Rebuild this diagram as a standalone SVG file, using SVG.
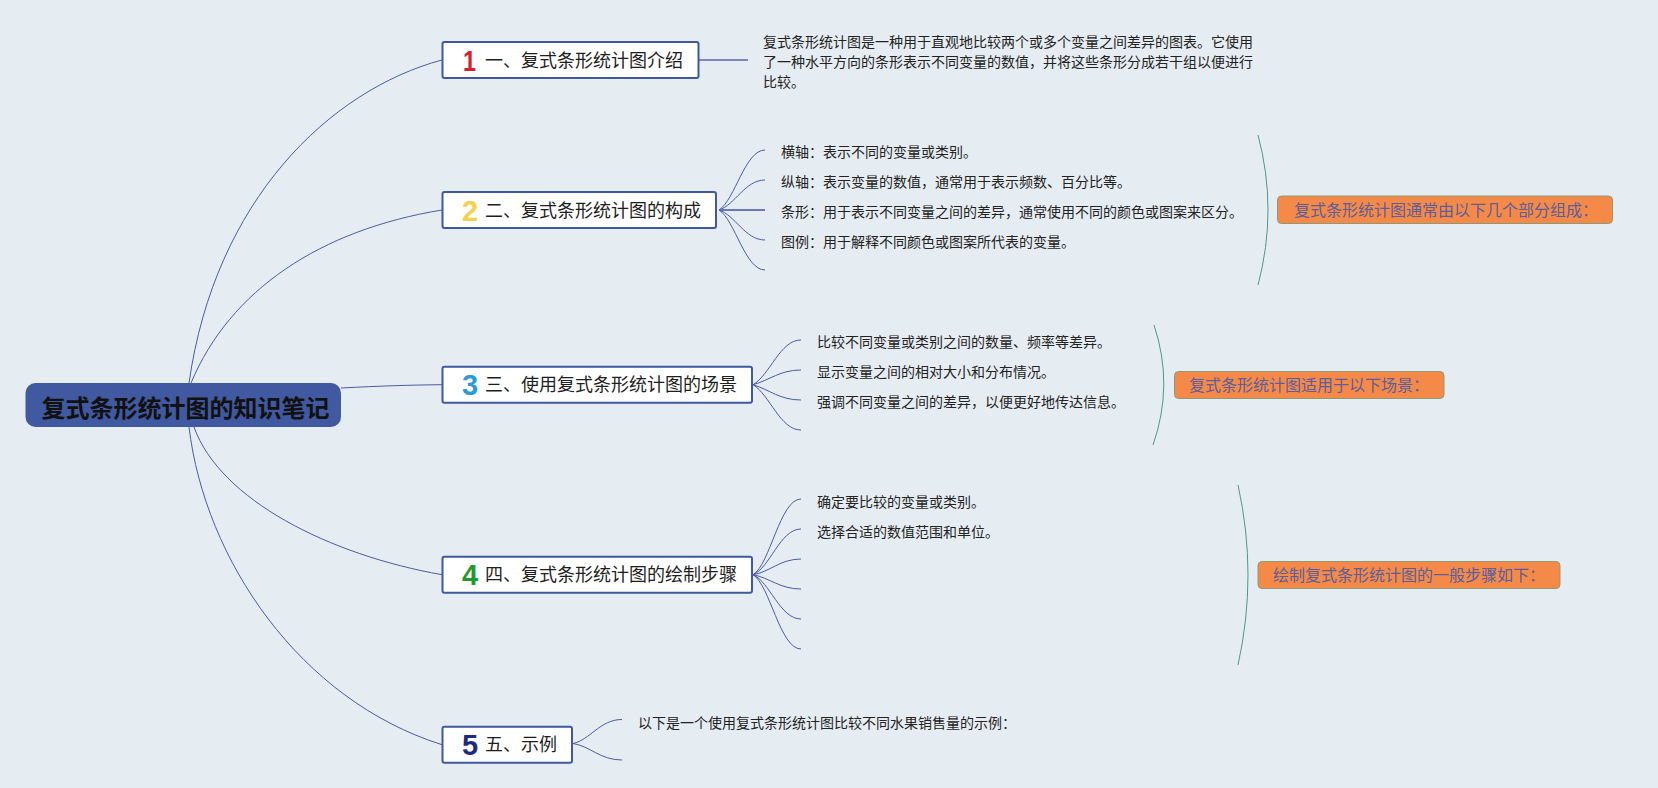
<svg xmlns="http://www.w3.org/2000/svg" width="1658" height="788" viewBox="0 0 1658 788">
<style>
.bg{fill:#e6edf2}
.topic rect{fill:#ffffff;stroke:#3f58a0;stroke-width:2}
.lbl{font-family:"Noto Sans CJK SC","Noto Sans",sans-serif;font-size:18px;fill:#1e1e1e}
.num{font-family:"Liberation Sans",Arial,sans-serif;font-size:29px;font-weight:bold}
.txt{font-family:"Noto Sans CJK SC","Noto Sans",sans-serif;font-size:14px;fill:#222222}
.sum rect{fill:#f58a48;stroke:#8d9a78;stroke-width:1}
.sum text{font-family:"Noto Sans CJK SC","Noto Sans",sans-serif;font-size:16px;fill:#5a5e9c}
.conn path{fill:none;stroke:#4a5ba0;stroke-width:1}
.brk path{fill:none;stroke:#4d9a80;stroke-width:1}
</style>
<rect class="bg" x="0" y="0" width="1658" height="788"/>

<g id="connectors" class="conn">
  <path d="M189,383 C215,200 330,90 442,60"/>
  <path d="M191,383 C230,290 320,230 442,210"/>
  <path d="M341,388 C380,386 410,385 442,384.7"/>
  <path d="M194,427 C220,500 330,555 442,574.7"/>
  <path d="M189,427 C205,560 300,700 442,744.7"/>
  <path d="M698,60 L748,60" style="stroke:#7a88c0;stroke-width:2"/>
  <path d="M719,210 C735,200 745,150 765,150"/>
  <path d="M719,210 C735,205 745,180 765,180"/>
  <path d="M719,210 L765,210" style="stroke-width:2;stroke:#6a78b8"/>
  <path d="M719,210 C735,215 745,240 765,240"/>
  <path d="M719,210 C735,220 745,270 765,270"/>
  <path d="M753,384.7 C770,375 780,340 801,340"/>
  <path d="M753,384.7 C770,380 780,370 801,370"/>
  <path d="M753,384.7 C770,390 780,400 801,400"/>
  <path d="M753,384.7 C770,395 780,430 801,430"/>
  <path d="M753,574.7 C770,565 780,499 801,499"/>
  <path d="M753,574.7 C770,568 780,529 801,529"/>
  <path d="M753,574.7 C770,572 780,559 801,559"/>
  <path d="M753,574.7 C770,578 780,589 801,589"/>
  <path d="M753,574.7 C770,582 780,619 801,619"/>
  <path d="M753,574.7 C770,585 780,649 801,649"/>
  <path d="M573,743.5 C590,740 600,719.5 622,719.5"/>
  <path d="M573,743.5 C590,746 600,760 622,760"/>
</g>

<g id="brackets" class="brk">
  <path d="M1258,135 Q1278,210 1258,285"/>
  <path d="M1154,325 Q1174,385 1153,445"/>
  <path d="M1238,485 Q1258,575 1238,665"/>
</g>

<g id="root">
  <rect x="25.5" y="383" width="315.5" height="44" rx="10" ry="10" fill="#4059a0"/>
  <text x="41.5" y="416.5" font-family="'Noto Sans CJK SC','Noto Sans',sans-serif" font-size="24" font-weight="bold" fill="#111111">复式条形统计图的知识笔记</text>
</g>

<g id="topic1" class="topic">
  <rect x="442.5" y="42" width="256" height="36" rx="2"/>
  <text class="num" x="463" y="70.5" fill="#d81f2e" textLength="13" lengthAdjust="spacingAndGlyphs">1</text>
  <text class="lbl" x="485" y="66.5">一、复式条形统计图介绍</text>
</g>
<g id="topic2" class="topic">
  <rect x="442.5" y="192" width="273.5" height="36" rx="2"/>
  <text class="num" x="462" y="220.5" fill="#f3d14a">2</text>
  <text class="lbl" x="485" y="216.5">二、复式条形统计图的构成</text>
</g>
<g id="topic3" class="topic">
  <rect x="442.5" y="366.7" width="309.5" height="36" rx="2"/>
  <text class="num" x="462" y="395.2" fill="#2a9ad8">3</text>
  <text class="lbl" x="485" y="391.2">三、使用复式条形统计图的场景</text>
</g>
<g id="topic4" class="topic">
  <rect x="442.5" y="556.7" width="309.5" height="36" rx="2"/>
  <text class="num" x="462" y="585.2" fill="#1f9a2f">4</text>
  <text class="lbl" x="485" y="581.2">四、复式条形统计图的绘制步骤</text>
</g>
<g id="topic5" class="topic">
  <rect x="442.5" y="726.7" width="129.5" height="36" rx="2"/>
  <text class="num" x="462" y="755.2" fill="#1e2a80">5</text>
  <text class="lbl" x="485" y="751.2">五、示例</text>
</g>

<g id="intro-text">
  <text class="txt" x="763" y="46.5">复式条形统计图是一种用于直观地比较两个或多个变量之间差异的图表。它使用</text>
  <text class="txt" x="763" y="66.5">了一种水平方向的条形表示不同变量的数值，并将这些条形分成若干组以便进行</text>
  <text class="txt" x="763" y="86.5">比较。</text>
</g>

<g id="parts">
  <text class="txt" x="781" y="156.5">横轴：表示不同的变量或类别。</text>
  <text class="txt" x="781" y="186.5">纵轴：表示变量的数值，通常用于表示频数、百分比等。</text>
  <text class="txt" x="781" y="216.5">条形：用于表示不同变量之间的差异，通常使用不同的颜色或图案来区分。</text>
  <text class="txt" x="781" y="246.5">图例：用于解释不同颜色或图案所代表的变量。</text>
</g>

<g id="scenes">
  <text class="txt" x="817" y="346.5">比较不同变量或类别之间的数量、频率等差异。</text>
  <text class="txt" x="817" y="376.5">显示变量之间的相对大小和分布情况。</text>
  <text class="txt" x="817" y="406.5">强调不同变量之间的差异，以便更好地传达信息。</text>
</g>

<g id="steps">
  <text class="txt" x="817" y="506.5">确定要比较的变量或类别。</text>
  <text class="txt" x="817" y="536.5">选择合适的数值范围和单位。</text>
</g>

<g id="example">
  <text class="txt" x="638" y="728">以下是一个使用复式条形统计图比较不同水果销售量的示例：</text>
</g>

<g id="summary2" class="sum">
  <rect x="1277.5" y="196" width="335" height="27.5" rx="4"/>
  <text x="1294" y="215.8">复式条形统计图通常由以下几个部分组成：</text>
</g>
<g id="summary3" class="sum">
  <rect x="1174.5" y="371.5" width="269.5" height="27" rx="4"/>
  <text x="1189" y="391">复式条形统计图适用于以下场景：</text>
</g>
<g id="summary4" class="sum">
  <rect x="1258" y="561.5" width="302" height="27" rx="4"/>
  <text x="1273" y="581">绘制复式条形统计图的一般步骤如下：</text>
</g>
</svg>
